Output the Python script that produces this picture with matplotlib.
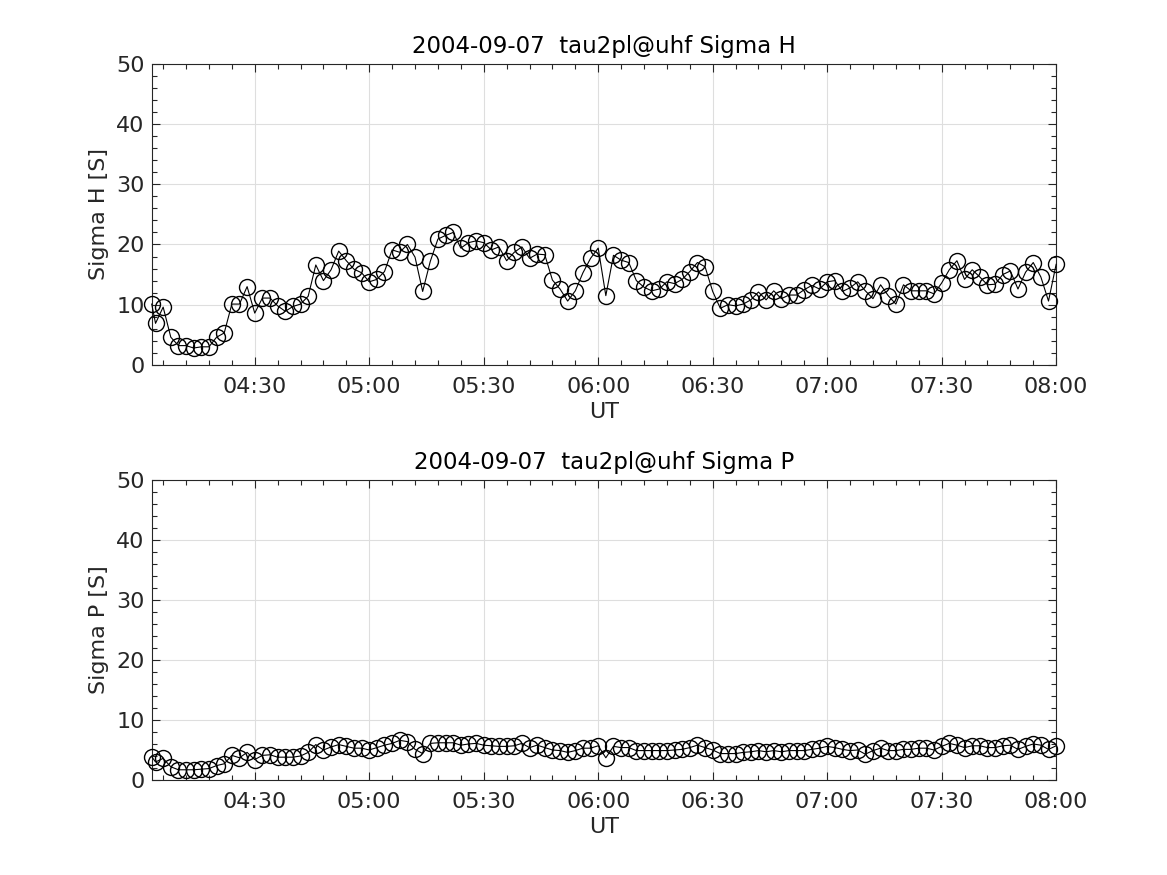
import numpy as np
import matplotlib
matplotlib.use('Agg')
import matplotlib.pyplot as plt
from matplotlib.ticker import MultipleLocator, FuncFormatter

plt.rcParams['font.family'] = 'DejaVu Sans'

# sample times, minutes after midnight (UT)
times = np.array([243] + list(range(244, 481, 2)))

sigma_h = [
    10.1, 6.9, 9.6, 4.6, 3.2, 3.2, 2.8, 3.0, 3.0, 4.6, 5.3, 10.1, 10.1, 13.0, 8.6,
    11.1, 11.1, 9.8, 8.9, 9.7, 10.1, 11.4, 16.6, 14.0, 15.8, 18.9, 17.3, 15.9, 15.3, 13.8,
    14.2, 15.5, 19.1, 18.7, 20.0, 17.9, 12.2, 17.2, 20.9, 21.5, 22.0, 19.4, 20.3, 20.6, 20.3,
    19.1, 19.6, 17.3, 18.7, 19.6, 17.7, 18.4, 18.3, 14.1, 12.6, 10.6, 12.3, 15.3, 17.7, 19.4,
    11.5, 18.2, 17.4, 17.0, 14.0, 12.9, 12.3, 12.6, 13.8, 13.5, 14.2, 15.5, 17.0, 16.3, 12.2,
    9.4, 10.0, 9.8, 10.1, 10.8, 12.1, 10.8, 12.3, 11.0, 11.6, 11.6, 12.5, 13.2, 12.6, 13.8,
    14.0, 12.2, 12.8, 13.8, 12.3, 11.0, 13.3, 11.5, 10.1, 13.3, 12.3, 12.3, 12.3, 11.8, 13.6,
    15.8, 17.3, 14.2, 15.8, 14.6, 13.3, 13.4, 15.0, 15.6, 12.6, 15.4, 17.0, 14.6, 10.6, 16.7,
]

sigma_p = [
    3.9, 3.0, 3.6, 2.2, 1.7, 1.7, 1.7, 1.8, 1.9, 2.4, 2.7, 4.1, 3.7, 4.6, 3.4,
    4.1, 4.2, 3.8, 3.8, 3.8, 4.0, 4.6, 5.9, 5.0, 5.5, 5.9, 5.6, 5.3, 5.3, 5.0,
    5.4, 5.8, 6.1, 6.6, 6.4, 5.1, 4.4, 6.1, 6.2, 6.2, 6.2, 5.8, 6.0, 6.1, 5.8,
    5.7, 5.6, 5.6, 5.7, 6.1, 5.4, 5.8, 5.4, 5.0, 4.9, 4.6, 4.9, 5.3, 5.3, 5.7,
    3.7, 5.6, 5.4, 5.4, 4.9, 4.9, 4.9, 4.9, 4.9, 5.0, 5.1, 5.4, 5.8, 5.4, 5.0,
    4.4, 4.4, 4.4, 4.6, 4.7, 4.9, 4.7, 4.9, 4.7, 4.9, 4.9, 4.9, 5.1, 5.3, 5.6,
    5.4, 5.1, 4.9, 5.0, 4.3, 4.9, 5.3, 4.9, 4.9, 5.1, 5.1, 5.3, 5.3, 5.0, 5.6,
    6.1, 5.8, 5.4, 5.7, 5.7, 5.4, 5.4, 5.7, 5.8, 5.1, 5.6, 6.0, 5.8, 5.1, 5.7,
]

date_str = '2004-09-07'
exp_str = 'tau2pl@uhf'
axcol = '#262626'


def hhmm(x, pos):
    return '%02d:%02d' % (int(x) // 60, int(x) % 60)


fig = plt.figure(figsize=(11.67, 8.75), dpi=100)
ax1 = fig.add_axes([0.130, 0.583, 0.775, 0.344])
ax2 = fig.add_axes([0.130, 0.1086, 0.775, 0.3428])

panels = [(ax1, sigma_h, 'Sigma H'), (ax2, sigma_p, 'Sigma P')]
for ax, vals, name in panels:
    ax.plot(times, vals, '-o', color='black', linewidth=0.8, markersize=11.5,
            markerfacecolor='none', markeredgewidth=1.0, clip_on=False, zorder=3)
    ax.set_xlim(times[0], times[-1])
    ax.set_ylim(0, 50)
    ax.xaxis.set_major_locator(MultipleLocator(30))
    ax.xaxis.set_minor_locator(MultipleLocator(6))
    ax.xaxis.set_major_formatter(FuncFormatter(hhmm))
    ax.yaxis.set_major_locator(MultipleLocator(10))
    ax.yaxis.set_minor_locator(MultipleLocator(2))
    ax.grid(True, which='major', color='#dedede', linewidth=0.8)
    ax.set_axisbelow(True)
    ax.tick_params(which='both', direction='in', top=True, right=True,
                   colors=axcol, labelsize=16)
    ax.tick_params(axis='x', which='major', pad=9)
    ax.tick_params(axis='y', which='major', pad=5)
    ax.tick_params(which='major', length=6, width=0.8)
    ax.tick_params(which='minor', length=3.5, width=0.8)
    for s in ax.spines.values():
        s.set_color(axcol)
        s.set_linewidth(0.8)
    ax.set_xlabel('UT', fontsize=16, color=axcol, labelpad=3)
    ax.set_ylabel(name + ' [S]', fontsize=16, color=axcol, labelpad=5)
    ax.set_title(date_str + '  ' + exp_str + ' ' + name, fontsize=16.5,
                 color='black', pad=8)

fig.savefig('out.png', dpi=100)
